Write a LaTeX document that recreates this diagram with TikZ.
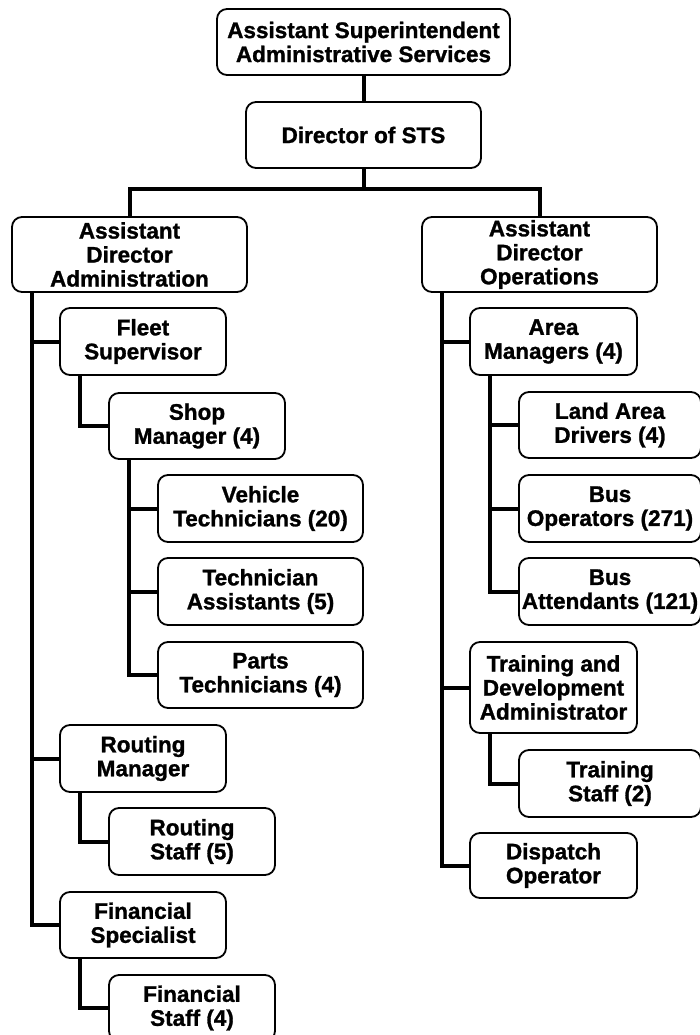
\documentclass[tikz,border=0pt]{standalone}
\usepackage{fontspec}
\setmainfont{Liberation Sans}[BoldFeatures={FakeBold=1.2}]
\begin{document}
\begin{tikzpicture}[x=1pt,y=-1pt,
  box/.style={draw=black,line width=1.8pt,rounded corners=10pt,fill=white,align=center,
    inner sep=0pt,font=\fontsize{22.5}{24}\selectfont\bfseries},
  conn/.style={line width=4pt,line join=miter}]
\useasboundingbox (0,0) rectangle (700,1035);
\clip (0,0) rectangle (700,1035);
% nodes
\node[box,minimum width=293pt,minimum height=66pt] (top) at (363.5,42) {Assistant Superintendent\\Administrative Services};
\node[box,minimum width=235pt,minimum height=66pt] (dir) at (363.5,135) {Director of STS};
\node[box,minimum width=235pt,minimum height=75pt] (ada) at (129.5,254.5) {Assistant\\Director\\Administration};
\node[box,minimum width=235pt,minimum height=75pt] (ado) at (539.5,254.5) {Assistant\\Director\\Operations};
\node[box,minimum width=166pt,minimum height=67pt] (fleet) at (143,341.5) {Fleet\\Supervisor};
\node[box,minimum width=176pt,minimum height=66pt] (shop) at (197,426) {Shop\\Manager (4)};
\node[box,minimum width=205pt,minimum height=67pt] (veh) at (260.5,508.5) {Vehicle\\Technicians (20)};
\node[box,minimum width=205pt,minimum height=67pt] (tass) at (260.5,591.5) {Technician\\Assistants (5)};
\node[box,minimum width=205pt,minimum height=66pt] (parts) at (260.5,675) {Parts\\Technicians (4)};
\node[box,minimum width=166pt,minimum height=67pt] (rman) at (143,758.5) {Routing\\Manager};
\node[box,minimum width=166pt,minimum height=67pt] (rstaff) at (192,841.5) {Routing\\Staff (5)};
\node[box,minimum width=166pt,minimum height=66pt] (fspec) at (143,925) {Financial\\Specialist};
\node[box,minimum width=166pt,minimum height=66pt] (fstaff) at (192,1008) {Financial\\Staff (4)};
\node[box,minimum width=167pt,minimum height=67pt] (area) at (553.5,341.5) {Area\\Managers (4)};
\node[box,minimum width=182pt,minimum height=66pt] (land) at (610,425) {Land Area\\Drivers (4)};
\node[box,minimum width=182pt,minimum height=67pt] (busop) at (610,508.5) {Bus\\Operators (271)};
\node[box,minimum width=182pt,minimum height=67pt] (busatt) at (610,591.5) {Bus\\Attendants (121)};
\node[box,minimum width=167pt,minimum height=91pt] (tdev) at (553.5,687.5) {Training and\\Development\\Administrator};
\node[box,minimum width=182pt,minimum height=67pt] (tstaff) at (610,783.5) {Training\\Staff (2)};
\node[box,minimum width=167pt,minimum height=65pt] (disp) at (553.5,865.5) {Dispatch\\Operator};
% spine coordinates
\coordinate (bus) at (363.5,189);
\coordinate (sL) at (32,0);
\coordinate (sF) at (80,0);
\coordinate (sS) at (129,0);
\coordinate (sR) at (442,0);
\coordinate (sA) at (490,0);
% connectors
\draw[conn] (top) -- (dir);
\draw[conn] (dir.south) -- (bus);
\draw[conn] (ada.north) |- (bus) -| (ado.north);
\draw[conn] (sL |- ada.south) |- (fleet.west);
\draw[conn] (sL |- ada.south) |- (rman.west);
\draw[conn] (sL |- ada.south) |- (fspec.west);
\draw[conn] (sF |- fleet.south) |- (shop.west);
\draw[conn] (sS |- shop.south) |- (veh.west);
\draw[conn] (sS |- shop.south) |- (tass.west);
\draw[conn] (sS |- shop.south) |- (parts.west);
\draw[conn] (sF |- rman.south) |- (rstaff.west);
\draw[conn] (sF |- fspec.south) |- (fstaff.west);
\draw[conn] (sR |- ado.south) |- (area.west);
\draw[conn] (sR |- ado.south) |- (tdev.west);
\draw[conn] (sR |- ado.south) |- (disp.west);
\draw[conn] (sA |- area.south) |- (land.west);
\draw[conn] (sA |- area.south) |- (busop.west);
\draw[conn] (sA |- area.south) |- (busatt.west);
\draw[conn] (sA |- tdev.south) |- (tstaff.west);
\end{tikzpicture}
\end{document}
